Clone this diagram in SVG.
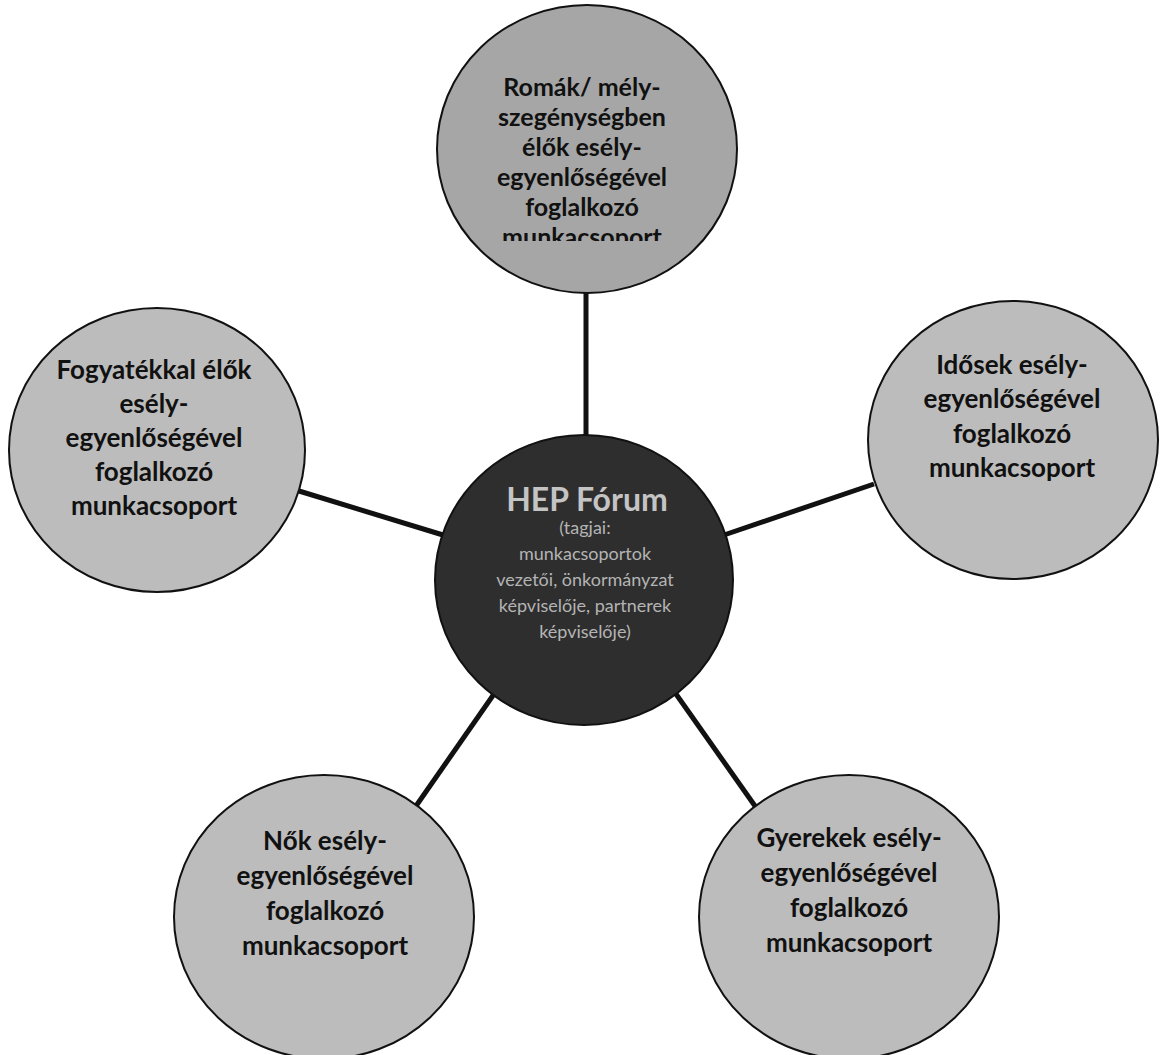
<svg xmlns="http://www.w3.org/2000/svg" width="1160" height="1055" viewBox="0 0 1160 1055">
<defs>
<style>
.bg{fill:#ffffff}
.outer{fill:#bcbcbc;stroke:#111;stroke-width:2}
.top{fill:#a6a6a6;stroke:#111;stroke-width:2}
.hub{fill:#2e2e2e;stroke:#111;stroke-width:2}
.conn{stroke:#111;stroke-width:5;stroke-linecap:butt;fill:none}
.lbl{font-family:Lato,"Open Sans","Liberation Sans",sans-serif;font-weight:bold;font-size:26px;fill:#111;text-anchor:middle}
.lblt{font-family:Lato,"Open Sans","Liberation Sans",sans-serif;font-weight:bold;font-size:25px;fill:#111;text-anchor:middle}
.hubh{font-family:Lato,"Open Sans","Liberation Sans",sans-serif;font-weight:bold;font-size:32px;fill:#c4c4c4;text-anchor:middle}
.hubs{font-family:Lato,"Open Sans","Liberation Sans",sans-serif;font-size:18px;fill:#b4b4b4;text-anchor:middle}
</style>
<clipPath id="clipTop"><rect x="430" y="0" width="320" height="241"/></clipPath>
</defs>
<rect class="bg" x="0" y="0" width="1160" height="1055"/>
<g id="connectors">
<line class="conn" x1="586" y1="290" x2="586" y2="438"/>
<line class="conn" x1="299" y1="491" x2="443" y2="535"/>
<line class="conn" x1="874" y1="484" x2="724" y2="535"/>
<line class="conn" x1="416" y1="806" x2="494" y2="694"/>
<line class="conn" x1="755" y1="806" x2="676" y2="694"/>
</g>
<g id="node-top">
<ellipse class="top" cx="587" cy="149" rx="150" ry="144"/>
<g clip-path="url(#clipTop)">
<text class="lblt" x="582" y="96">Romák/ mély-</text>
<text class="lblt" x="582" y="126">szegénységben</text>
<text class="lblt" x="582" y="156">élők esély-</text>
<text class="lblt" x="582" y="186">egyenlőségével</text>
<text class="lblt" x="582" y="216">foglalkozó</text>
<text class="lblt" x="582" y="246">munkacsoport</text>
</g>
</g>
<g id="node-left">
<ellipse class="outer" cx="157" cy="450" rx="148" ry="142"/>
<text class="lbl" x="154" y="379">Fogyatékkal élők</text>
<text class="lbl" x="154" y="413">esély-</text>
<text class="lbl" x="154" y="447">egyenlőségével</text>
<text class="lbl" x="154" y="481">foglalkozó</text>
<text class="lbl" x="154" y="515">munkacsoport</text>
</g>
<g id="node-right">
<ellipse class="outer" cx="1013" cy="440" rx="145" ry="139"/>
<text class="lbl" x="1012" y="374">Idősek esély-</text>
<text class="lbl" x="1012" y="408">egyenlőségével</text>
<text class="lbl" x="1012" y="443">foglalkozó</text>
<text class="lbl" x="1012" y="477">munkacsoport</text>
</g>
<g id="node-bottom-left">
<ellipse class="outer" cx="324" cy="917" rx="150" ry="142"/>
<text class="lbl" x="325" y="850">Nők esély-</text>
<text class="lbl" x="325" y="885">egyenlőségével</text>
<text class="lbl" x="325" y="920">foglalkozó</text>
<text class="lbl" x="325" y="955">munkacsoport</text>
</g>
<g id="node-bottom-right">
<ellipse class="outer" cx="849" cy="917" rx="150" ry="142"/>
<text class="lbl" x="849" y="847">Gyerekek esély-</text>
<text class="lbl" x="849" y="882">egyenlőségével</text>
<text class="lbl" x="849" y="917">foglalkozó</text>
<text class="lbl" x="849" y="952">munkacsoport</text>
</g>
<g id="node-hub">
<ellipse class="hub" cx="584" cy="580" rx="149" ry="145"/>
<text class="hubh" x="587" y="511">HEP Fórum</text>
<text class="hubs" x="585" y="534">(tagjai:</text>
<text class="hubs" x="585" y="560">munkacsoportok</text>
<text class="hubs" x="585" y="586">vezetői, önkormányzat</text>
<text class="hubs" x="585" y="612">képviselője, partnerek</text>
<text class="hubs" x="585" y="638">képviselője)</text>
</g>
</svg>
